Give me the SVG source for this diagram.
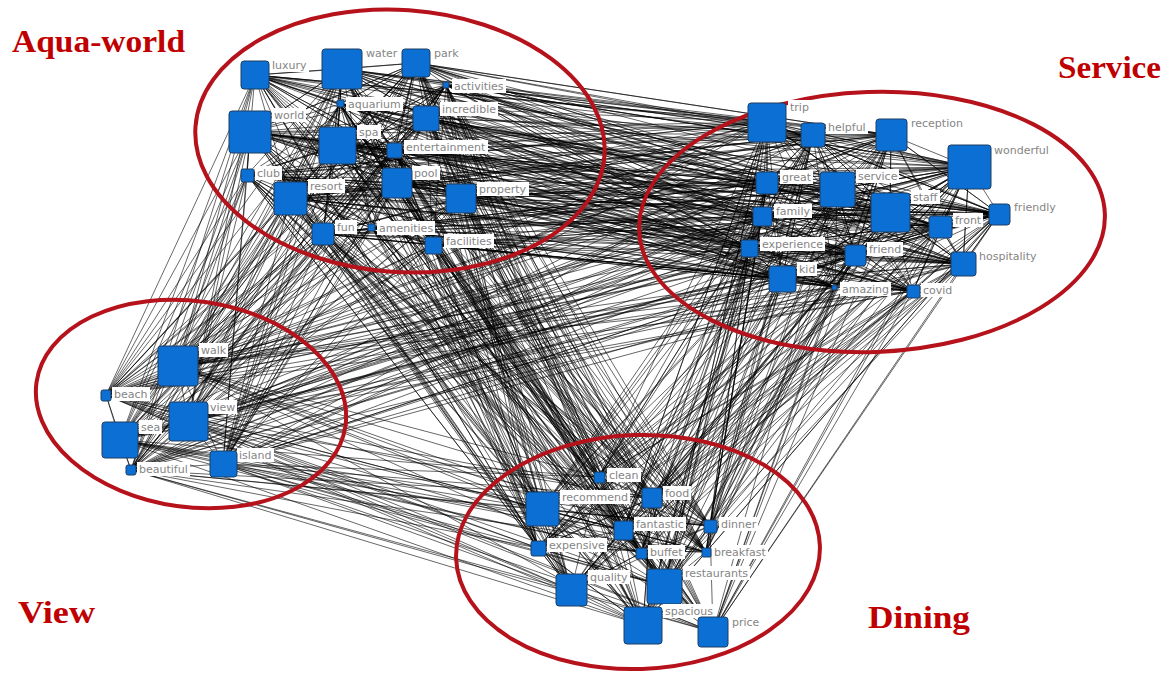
<svg xmlns="http://www.w3.org/2000/svg" width="1169" height="675" viewBox="0 0 1169 675">
<style>
.e{fill:none;stroke:#000;stroke-width:0.6;stroke-linejoin:bevel}
.c{fill:none;stroke:#b5121b;stroke-width:4}
.n{fill:#0b6fd3;stroke:#1f3f63;stroke-width:1}
.lb{fill:#fff}
.lt{font-family:"DejaVu Sans",Verdana,sans-serif;font-size:11px;fill:#858585}
.t{font-family:"Liberation Serif",serif;font-weight:bold;font-size:32px;fill:#c00000}
</style>
<rect width="1169" height="675" fill="#fff"/>
<g id="connectors">
<path class="e" d="M255 75 337 145 416 63 290 198 426 118 250 132 397 183 342 69 323 234 446 85 247 175 395 150 433 245 340 104 461 198 255 75 397 183 416 63 372 228 250 132 395 150 290 198 342 69 433 245 337 145 446 85 323 234 426 118 247 175 461 198 340 104 290 198 416 63 250 132 433 245 255 75 395 150 323 234 342 69 397 183 247 175 426 118 372 228 255 75 461 198 337 145 342 69 340 104 250 132 446 85 290 198 395 150 416 63 323 234 461 198 247 175 342 69 426 118 255 75 340 104 433 245 397 183 250 132 372 228 290 198 446 85 395 150 337 145 461 198 323 234 255 75 416 63 247 175 433 245 426 118 290 198 397 183 340 104 372 228 342 69 250 132 461 198 416 63 395 150 255 75 290 198 433 245 446 85 337 145 247 175 323 234 397 183 426 118 342 69 461 198 395 150 250 132 416 63 340 104 323 234"/>
<path class="e" d="M255 75 342 69 416 63 446 85 426 118 395 150 397 183 461 198 433 245 372 228 323 234 290 198 247 175 250 132 255 75 340 104 337 145 290 198 323 234 372 228 397 183 395 150 426 118 416 63 340 104 342 69 250 132 247 175 290 198 372 228 433 245 397 183 337 145 340 104 426 118 446 85 461 198 397 183 323 234 337 145 250 132"/>
<path class="e" d="M767 122 762 216 891 135 855 255 837 189 890 212 749 248 813 135 782 279 969 167 940 227 999 214 913 291 767 183 963 264 767 122 749 248 891 135 835 287 890 212 999 214 855 255 813 135 913 291 762 216 969 167 782 279 837 189 940 227 963 264 767 183 855 255 891 135 890 212 913 291 767 122 999 214 782 279 813 135 749 248 940 227 837 189 835 287 767 122 963 264 762 216 813 135 767 183 890 212 969 167 855 255 999 214 891 135 782 279 963 264 940 227 813 135 837 189 767 122 767 183 913 291 749 248 890 212 835 287 855 255 969 167 999 214 762 216 963 264 782 279 767 122 891 135 940 227 913 291 837 189 855 255 749 248 767 183 835 287 813 135 890 212 963 264 891 135 999 214 767 122 855 255 913 291 969 167 762 216 940 227 782 279 749 248 837 189 813 135 963 264 999 214 890 212 891 135 767 183 782 279"/>
<path class="e" d="M767 122 813 135 891 135 969 167 837 189 999 214 749 248 963 264 913 291 835 287 782 279 855 255 940 227 890 212 767 122 767 183 762 216 855 255 782 279 835 287 749 248 999 214 837 189 891 135 767 183 813 135 890 212 940 227 855 255 835 287 913 291 749 248 762 216 767 183 837 189 969 167 963 264 749 248 782 279 762 216 890 212"/>
<path class="e" d="M999 214 767 122 969 167 762 216 999 214 749 248 969 167 782 279 999 214 837 189 969 167 855 255 999 214 835 287 969 167 767 183 999 214 890 212 969 167 940 227 999 214 963 264 969 167 913 291 999 214 813 135 969 167 767 122"/>
<path class="e" d="M255 75 767 122 342 69 813 135 416 63 891 135 446 85 969 167 340 104 767 183 426 118 837 189 250 132 890 212 337 145 762 216 395 150 999 214 247 175 940 227 397 183 749 248 290 198 855 255 461 198 963 264 323 234 782 279 372 228 835 287 433 245 913 291 255 75 969 167 342 69 767 183 416 63 837 189 446 85 890 212 340 104 762 216 426 118 999 214 250 132 940 227 337 145 749 248 395 150 855 255 247 175 963 264 397 183 782 279 290 198 835 287 461 198 913 291 323 234 767 122 372 228 813 135 433 245 891 135 255 75 762 216 342 69 999 214 416 63 940 227 446 85 749 248 340 104 855 255 426 118 963 264 250 132 782 279 337 145 835 287 395 150 913 291 247 175 767 122 397 183 813 135 290 198 891 135 461 198 969 167 323 234 767 183 372 228 837 189 433 245 890 212 255 75 749 248 342 69 855 255 416 63 963 264 446 85 782 279 340 104 835 287 426 118 913 291 250 132 767 122 337 145 813 135 395 150 891 135 247 175 969 167 397 183 767 183 290 198 837 189 461 198 890 212 323 234 762 216 372 228 999 214 433 245 940 227 255 75 782 279 342 69 835 287 416 63 913 291 446 85 767 122 340 104 813 135 426 118 891 135 250 132 969 167 337 145 767 183 395 150 837 189 247 175 890 212 397 183 762 216 290 198 999 214 461 198 940 227 323 234 749 248 372 228 963 264 433 245 855 255"/>
<path class="e" d="M255 75 813 135 342 69 891 135 416 63 969 167 446 85 767 183 340 104 837 189 426 118 890 212 250 132 762 216 337 145 999 214 395 150 940 227 247 175 749 248 397 183 855 255 290 198 963 264 461 198 782 279 323 234 835 287 372 228 913 291 433 245 767 122 255 75 999 214 342 69 940 227 416 63 749 248 446 85 855 255 340 104 963 264 426 118 782 279 250 132 835 287 337 145 913 291 395 150 767 122 247 175 813 135 397 183 891 135 290 198 969 167 461 198 767 183 323 234 837 189 372 228 890 212 433 245 762 216"/>
<path class="e" d="M255 75 599 477 342 69 542 509 416 63 652 498 446 85 623 530 340 104 710 526 426 118 538 548 250 132 641 553 337 145 706 552 395 150 571 590 247 175 664 586 397 183 643 625 290 198 713 632 461 198 599 477 323 234 542 509 372 228 652 498 433 245 623 530 255 75 538 548 342 69 641 553 416 63 706 552 446 85 571 590 340 104 664 586 426 118 643 625 250 132 713 632 337 145 599 477 395 150 542 509 247 175 652 498 397 183 623 530 290 198 710 526 461 198 538 548 323 234 641 553 372 228 706 552 433 245 571 590 255 75 664 586 342 69 643 625 416 63 713 632 446 85 599 477 340 104 542 509 426 118 652 498 250 132 623 530 337 145 710 526 395 150 538 548 247 175 641 553 397 183 706 552 290 198 571 590 461 198 664 586 323 234 643 625 372 228 713 632 433 245 599 477"/>
<path class="e" d="M255 75 652 498 342 69 623 530 416 63 710 526 446 85 538 548 340 104 641 553 426 118 706 552 250 132 571 590 337 145 664 586 395 150 643 625 247 175 713 632 397 183 599 477 290 198 542 509 461 198 652 498 323 234 623 530 372 228 710 526 433 245 538 548 255 75 706 552 342 69 571 590 416 63 664 586 446 85 643 625 340 104 713 632 426 118 599 477 250 132 542 509 337 145 652 498 395 150 623 530 247 175 710 526 397 183 538 548 290 198 641 553 461 198 706 552 323 234 571 590 372 228 664 586 433 245 643 625"/>
<path class="e" d="M767 122 599 477 813 135 542 509 891 135 652 498 969 167 623 530 767 183 710 526 837 189 538 548 890 212 641 553 762 216 706 552 999 214 571 590 940 227 664 586 749 248 643 625 855 255 713 632 963 264 599 477 782 279 542 509 835 287 652 498 913 291 623 530 767 122 641 553 813 135 706 552 891 135 571 590 969 167 664 586 767 183 643 625 837 189 713 632 890 212 599 477 762 216 542 509 999 214 652 498 940 227 623 530 749 248 710 526 855 255 538 548 963 264 641 553 782 279 706 552 835 287 571 590 913 291 664 586 767 122 623 530 813 135 710 526 891 135 538 548 969 167 641 553 767 183 706 552 837 189 571 590 890 212 664 586 762 216 643 625 999 214 713 632 940 227 599 477 749 248 542 509 855 255 652 498 963 264 623 530 782 279 710 526 835 287 538 548 913 291 641 553"/>
<path class="e" d="M767 122 664 586 813 135 643 625 891 135 713 632 969 167 599 477 767 183 542 509 837 189 652 498 890 212 623 530 762 216 710 526 999 214 538 548 940 227 641 553 749 248 706 552 855 255 571 590 963 264 664 586 782 279 643 625 835 287 713 632 913 291 599 477"/>
<path class="e" d="M599 477 641 553 652 498 643 625 710 526 571 590 542 509 713 632 623 530 706 552 538 548 664 586 599 477 652 498 710 526 641 553 571 590 643 625 542 509 623 530 538 548 706 552 664 586 713 632 599 477 623 530 641 553 664 586 542 509 710 526 706 552 643 625 652 498 538 548 571 590 713 632 652 498 571 590 599 477 710 526 664 586 538 548 643 625 623 530 713 632 641 553 542 509 706 552 599 477 643 625 538 548 652 498 664 586 623 530 571 590 641 553 713 632 710 526 542 509"/>
<path class="e" d="M255 75 178 366 342 69 106 395 416 63 188 421 446 85 120 440 340 104 131 470 426 118 223 464 250 132 178 366 337 145 106 395 395 150 188 421 247 175 120 440 397 183 131 470 290 198 223 464 461 198 178 366 323 234 106 395 372 228 188 421 433 245 120 440 255 75 131 470 342 69 223 464 416 63 178 366 446 85 106 395 340 104 188 421 426 118 120 440 250 132 131 470 337 145 223 464 395 150 178 366 247 175 106 395 397 183 188 421 290 198 120 440 461 198 131 470 323 234 223 464 372 228 178 366 433 245 106 395 255 75 188 421 342 69 120 440 416 63 131 470 446 85 223 464 340 104 178 366 426 118 106 395 250 132 188 421 337 145 120 440 395 150 131 470 247 175 223 464 397 183 178 366 290 198 106 395 461 198 188 421 323 234 120 440 372 228 131 470 433 245 223 464"/>
<path class="e" d="M767 122 178 366 813 135 106 395 891 135 188 421 969 167 120 440 767 183 131 470 837 189 223 464 890 212 178 366 762 216 106 395 999 214 188 421 940 227 120 440 749 248 131 470 855 255 223 464 963 264 178 366 782 279 106 395 835 287 188 421 913 291 120 440 767 122 131 470 813 135 223 464 891 135 178 366 969 167 106 395 767 183 188 421 837 189 120 440 890 212 131 470 762 216 223 464 999 214 178 366 940 227 106 395 749 248 188 421 855 255 120 440 963 264 131 470 782 279 223 464 835 287 178 366 913 291 106 395"/>
<path class="e" d="M599 477 178 366 542 509 106 395 652 498 188 421 623 530 120 440 710 526 131 470 538 548 223 464 641 553 178 366 706 552 106 395 571 590 188 421 664 586 120 440 643 625 131 470 713 632 223 464 599 477 120 440 542 509 131 470 652 498 223 464 623 530 178 366 710 526 106 395 538 548 188 421 641 553 120 440 706 552 131 470 571 590 223 464 664 586 178 366 643 625 106 395 713 632 188 421"/>
<path class="e" d="M178 366 106 395 188 421 120 440 131 470 223 464 178 366 188 421 131 470 106 395 120 440 223 464 188 421"/>
</g>
<g id="clusters">
<ellipse class="c" cx="400" cy="141" rx="205" ry="131" transform="rotate(4 400 141)"/>
<ellipse class="c" cx="872" cy="222" rx="233" ry="130" transform="rotate(-2 872 222)"/>
<ellipse class="c" cx="191" cy="404" rx="156" ry="103" transform="rotate(8 191 404)"/>
<ellipse class="c" cx="638" cy="552" rx="182" ry="117" transform="rotate(-2 638 552)"/>
</g>
<g id="n-luxury"><rect class="lb" x="270" y="58" width="39" height="14"/><text class="lt" x="272" y="69">luxury</text><rect class="n" x="241" y="61" width="28" height="28" rx="3"/></g>
<g id="n-water"><rect class="lb" x="364" y="46" width="35" height="14"/><text class="lt" x="366" y="57">water</text><rect class="n" x="322" y="49" width="40" height="40" rx="3"/></g>
<g id="n-park"><rect class="lb" x="432" y="46" width="29" height="14"/><text class="lt" x="434" y="57">park</text><rect class="n" x="402" y="49" width="28" height="28" rx="3"/></g>
<g id="n-activities"><rect class="lb" x="452" y="79" width="54" height="14"/><text class="lt" x="454" y="90">activities</text><rect class="n" x="443" y="82" width="6" height="6" rx="1"/></g>
<g id="n-aquarium"><rect class="lb" x="346" y="97" width="57" height="14"/><text class="lt" x="348" y="108">aquarium</text><rect class="n" x="337" y="100" width="7" height="7" rx="1"/></g>
<g id="n-incredible"><rect class="lb" x="440" y="102" width="58" height="14"/><text class="lt" x="442" y="113">incredible</text><rect class="n" x="413" y="106" width="26" height="25" rx="3"/></g>
<g id="n-world"><rect class="lb" x="272" y="108" width="34" height="14"/><text class="lt" x="274" y="119">world</text><rect class="n" x="229" y="111" width="42" height="42" rx="3"/></g>
<g id="n-spa"><rect class="lb" x="357" y="125" width="24" height="14"/><text class="lt" x="359" y="136">spa</text><rect class="n" x="319" y="127" width="37" height="37" rx="3"/></g>
<g id="n-entertainment"><rect class="lb" x="404" y="140" width="84" height="14"/><text class="lt" x="406" y="151">entertainment</text><rect class="n" x="387" y="143" width="15" height="15" rx="2"/></g>
<g id="n-club"><rect class="lb" x="255" y="166" width="27" height="14"/><text class="lt" x="257" y="177">club</text><rect class="n" x="241" y="169" width="13" height="13" rx="2"/></g>
<g id="n-pool"><rect class="lb" x="412" y="166" width="28" height="14"/><text class="lt" x="414" y="177">pool</text><rect class="n" x="382" y="168" width="30" height="30" rx="3"/></g>
<g id="n-resort"><rect class="lb" x="308" y="179" width="37" height="14"/><text class="lt" x="310" y="190">resort</text><rect class="n" x="274" y="182" width="33" height="33" rx="3"/></g>
<g id="n-property"><rect class="lb" x="477" y="182" width="52" height="14"/><text class="lt" x="479" y="193">property</text><rect class="n" x="446" y="184" width="30" height="29" rx="3"/></g>
<g id="n-fun"><rect class="lb" x="335" y="220" width="22" height="14"/><text class="lt" x="337" y="231">fun</text><rect class="n" x="312" y="223" width="22" height="22" rx="3"/></g>
<g id="n-amenities"><rect class="lb" x="377" y="221" width="58" height="14"/><text class="lt" x="379" y="232">amenities</text><rect class="n" x="368" y="224" width="7" height="7" rx="1"/></g>
<g id="n-facilities"><rect class="lb" x="444" y="234" width="50" height="14"/><text class="lt" x="446" y="245">facilities</text><rect class="n" x="425" y="237" width="17" height="17" rx="2"/></g>
<g id="n-trip"><rect class="lb" x="788" y="100" width="23" height="14"/><text class="lt" x="790" y="111">trip</text><rect class="n" x="748" y="103" width="38" height="39" rx="3"/></g>
<g id="n-helpful"><rect class="lb" x="826" y="120" width="42" height="14"/><text class="lt" x="828" y="131">helpful</text><rect class="n" x="801" y="123" width="24" height="24" rx="3"/></g>
<g id="n-reception"><rect class="lb" x="909" y="116" width="56" height="14"/><text class="lt" x="911" y="127">reception</text><rect class="n" x="876" y="119" width="31" height="32" rx="3"/></g>
<g id="n-wonderful"><rect class="lb" x="992" y="143" width="59" height="14"/><text class="lt" x="994" y="154">wonderful</text><rect class="n" x="948" y="145" width="43" height="44" rx="3"/></g>
<g id="n-great"><rect class="lb" x="780" y="170" width="33" height="14"/><text class="lt" x="782" y="181">great</text><rect class="n" x="756" y="172" width="22" height="22" rx="3"/></g>
<g id="n-service"><rect class="lb" x="856" y="169" width="43" height="14"/><text class="lt" x="858" y="180">service</text><rect class="n" x="820" y="172" width="35" height="35" rx="3"/></g>
<g id="n-staff"><rect class="lb" x="911" y="190" width="29" height="14"/><text class="lt" x="913" y="201">staff</text><rect class="n" x="871" y="193" width="39" height="39" rx="3"/></g>
<g id="n-family"><rect class="lb" x="774" y="204" width="38" height="14"/><text class="lt" x="776" y="215">family</text><rect class="n" x="753" y="207" width="19" height="19" rx="2"/></g>
<g id="n-friendly"><rect class="lb" x="1012" y="200" width="46" height="14"/><text class="lt" x="1014" y="211">friendly</text><rect class="n" x="989" y="204" width="21" height="21" rx="3"/></g>
<g id="n-front"><rect class="lb" x="953" y="213" width="30" height="14"/><text class="lt" x="955" y="224">front</text><rect class="n" x="929" y="216" width="23" height="22" rx="3"/></g>
<g id="n-experience"><rect class="lb" x="760" y="237" width="65" height="14"/><text class="lt" x="762" y="248">experience</text><rect class="n" x="741" y="240" width="17" height="17" rx="2"/></g>
<g id="n-friend"><rect class="lb" x="867" y="242" width="36" height="14"/><text class="lt" x="869" y="253">friend</text><rect class="n" x="845" y="245" width="21" height="21" rx="3"/></g>
<g id="n-hospitality"><rect class="lb" x="977" y="249" width="62" height="14"/><text class="lt" x="979" y="260">hospitality</text><rect class="n" x="951" y="252" width="25" height="24" rx="3"/></g>
<g id="n-kid"><rect class="lb" x="797" y="262" width="20" height="14"/><text class="lt" x="799" y="273">kid</text><rect class="n" x="769" y="266" width="27" height="26" rx="3"/></g>
<g id="n-amazing"><rect class="lb" x="840" y="282" width="51" height="14"/><text class="lt" x="842" y="293">amazing</text><rect class="n" x="832" y="285" width="5" height="5" rx="1"/></g>
<g id="n-covid"><rect class="lb" x="921" y="283" width="33" height="14"/><text class="lt" x="923" y="294">covid</text><rect class="n" x="907" y="285" width="13" height="13" rx="2"/></g>
<g id="n-walk"><rect class="lb" x="199" y="343" width="29" height="14"/><text class="lt" x="201" y="354">walk</text><rect class="n" x="158" y="346" width="40" height="40" rx="3"/></g>
<g id="n-beach"><rect class="lb" x="112" y="387" width="38" height="14"/><text class="lt" x="114" y="398">beach</text><rect class="n" x="101" y="390" width="10" height="11" rx="2"/></g>
<g id="n-view"><rect class="lb" x="208" y="400" width="29" height="14"/><text class="lt" x="210" y="411">view</text><rect class="n" x="169" y="402" width="39" height="39" rx="3"/></g>
<g id="n-sea"><rect class="lb" x="139" y="420" width="23" height="14"/><text class="lt" x="141" y="431">sea</text><rect class="n" x="102" y="422" width="36" height="36" rx="3"/></g>
<g id="n-beautiful"><rect class="lb" x="137" y="462" width="53" height="14"/><text class="lt" x="139" y="473">beautiful</text><rect class="n" x="126" y="465" width="10" height="10" rx="2"/></g>
<g id="n-island"><rect class="lb" x="237" y="448" width="37" height="14"/><text class="lt" x="239" y="459">island</text><rect class="n" x="210" y="451" width="27" height="26" rx="3"/></g>
<g id="n-clean"><rect class="lb" x="607" y="468" width="34" height="14"/><text class="lt" x="609" y="479">clean</text><rect class="n" x="594" y="472" width="11" height="11" rx="2"/></g>
<g id="n-recommend"><rect class="lb" x="560" y="490" width="70" height="14"/><text class="lt" x="562" y="501">recommend</text><rect class="n" x="526" y="492" width="33" height="34" rx="3"/></g>
<g id="n-food"><rect class="lb" x="663" y="486" width="28" height="14"/><text class="lt" x="665" y="497">food</text><rect class="n" x="642" y="488" width="20" height="20" rx="2"/></g>
<g id="n-fantastic"><rect class="lb" x="634" y="517" width="52" height="14"/><text class="lt" x="636" y="528">fantastic</text><rect class="n" x="614" y="521" width="19" height="19" rx="2"/></g>
<g id="n-dinner"><rect class="lb" x="719" y="517" width="39" height="14"/><text class="lt" x="721" y="528">dinner</text><rect class="n" x="704" y="520" width="13" height="13" rx="2"/></g>
<g id="n-expensive"><rect class="lb" x="547" y="538" width="60" height="14"/><text class="lt" x="549" y="549">expensive</text><rect class="n" x="531" y="541" width="15" height="15" rx="2"/></g>
<g id="n-buffet"><rect class="lb" x="648" y="545" width="37" height="14"/><text class="lt" x="650" y="556">buffet</text><rect class="n" x="636" y="548" width="11" height="11" rx="2"/></g>
<g id="n-breakfast"><rect class="lb" x="712" y="545" width="56" height="14"/><text class="lt" x="714" y="556">breakfast</text><rect class="n" x="702" y="548" width="9" height="9" rx="1"/></g>
<g id="n-quality"><rect class="lb" x="588" y="570" width="42" height="14"/><text class="lt" x="590" y="581">quality</text><rect class="n" x="556" y="574" width="31" height="32" rx="3"/></g>
<g id="n-restaurants"><rect class="lb" x="683" y="566" width="67" height="14"/><text class="lt" x="685" y="577">restaurants</text><rect class="n" x="647" y="569" width="35" height="35" rx="3"/></g>
<g id="n-spacious"><rect class="lb" x="663" y="604" width="52" height="14"/><text class="lt" x="665" y="615">spacious</text><rect class="n" x="624" y="607" width="38" height="37" rx="3"/></g>
<g id="n-price"><rect class="lb" x="730" y="615" width="32" height="14"/><text class="lt" x="732" y="626">price</text><rect class="n" x="698" y="617" width="30" height="30" rx="3"/></g>
<g id="titles">
<text class="t" x="12" y="52" textLength="173" lengthAdjust="spacingAndGlyphs">Aqua-world</text>
<text class="t" x="1058" y="78" textLength="103" lengthAdjust="spacingAndGlyphs">Service</text>
<text class="t" x="18" y="623" textLength="77" lengthAdjust="spacingAndGlyphs">View</text>
<text class="t" x="868" y="628" textLength="102" lengthAdjust="spacingAndGlyphs">Dining</text>
</g>
</svg>
